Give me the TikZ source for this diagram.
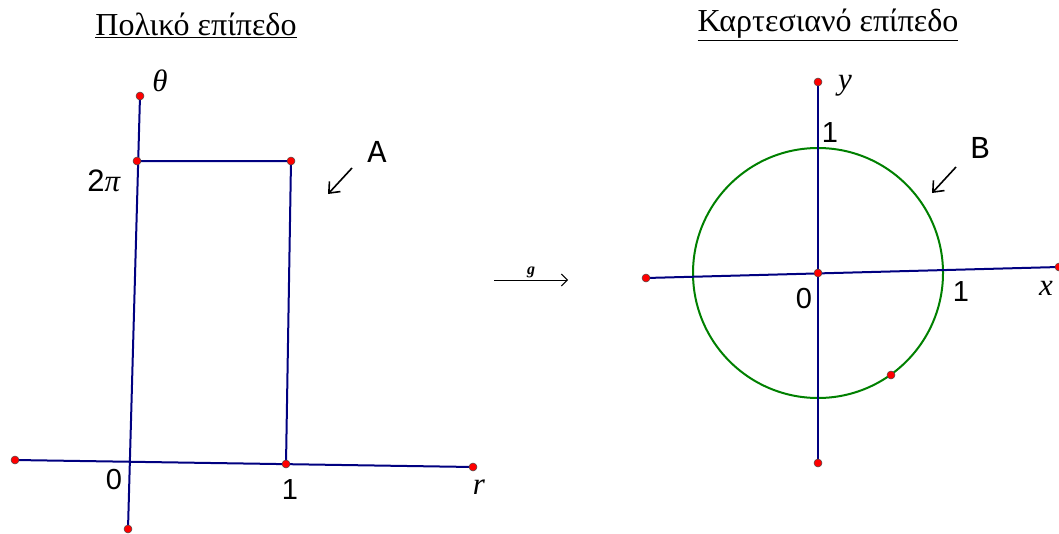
\documentclass[tikz,border=0pt]{standalone}
\usepackage{fontspec}
\setmainfont{Liberation Serif}
\newfontfamily\lblfont{Liberation Sans}
\newfontfamily\monofont{Liberation Mono}
\usetikzlibrary{arrows.meta}
\definecolor{axisblue}{RGB}{0,0,128}
\definecolor{circgreen}{RGB}{0,128,0}
\definecolor{dotred}{RGB}{255,0,0}
\tikzset{
  axis/.style={draw=axisblue, line width=2pt},
  dot/.style={circle, fill=dotred, draw=black!70, line width=0.5pt, inner sep=0pt, minimum size=8pt},
  title/.style={font=\fontsize{32}{34}\selectfont, inner sep=0pt},
  lbl/.style={font=\lblfont\fontsize{29}{31}\selectfont, inner sep=0pt},
  mlbl/.style={font=\itshape\fontsize{31}{33}\selectfont, inner sep=0pt},
  letter/.style={font=\monofont\fontsize{32}{34}\selectfont, inner sep=0pt},
  pointer/.style={draw=black, line width=1.6pt, -{Straight Barb[length=9pt,width=15pt,line width=1.6pt]}},
}
\begin{document}
\begin{tikzpicture}[x=1pt,y=-1pt]
\useasboundingbox (0,0) rectangle (1059,533);
% titles
\node[title] (t1) at (196,25) {\underline{Πολικό επίπεδο}};
\node[title] (t2) at (828,25) {\underline{Καρτεσιανό επίπεδο}};
% left panel coordinates
\coordinate (thtop) at (140,96);
\coordinate (thbot) at (128,529);
\coordinate (rleft) at (15,460);
\coordinate (rright) at (473,467);
\coordinate (tp) at (137,161);
\coordinate (tr) at (291,161);
\coordinate (one) at (286,464);
\draw[axis] (thtop) -- (thbot);
\draw[axis] (rleft) -- (rright);
\draw[axis] (tp) -- (tr) -- (one);
\foreach \p in {thtop,thbot,rleft,rright,tp,tr,one} \node[dot] at (\p) {};
\node[mlbl] (lth) at (160,81) {θ};
\node[font=\fontsize{31}{33}\selectfont, inner sep=0pt] (l2pi) at (104,181) {{\lblfont 2}\textit{π}};
\node[lbl] (l0a) at (114,480) {0};
\node[lbl] (l1a) at (290,490) {1};
\node[mlbl] (lr) at (479,487) {r};
\node[letter] (lA) at (377,152) {A};
\coordinate (aS) at (352,168);
\coordinate (aE) at (328,194);
\draw[pointer] (aS) -- (aE);
% middle arrow
\coordinate (gS) at (494,280);
\coordinate (gE) at (568,280);
\draw[line width=1pt, -{Straight Barb[length=6pt,width=12pt,line width=1pt]}] (gS) -- (gE);
\node[font=\bfseries\itshape\fontsize{16}{16}\selectfont, inner sep=0pt] (lg) at (531,272) {g};
% right panel
\coordinate (O) at (818,273);
\coordinate (ytop) at (818,82);
\coordinate (ybot) at (818,463);
\coordinate (xleft) at (646,278);
\coordinate (xright) at (1059,267);
\coordinate (cp) at (891,375);
\draw[draw=circgreen, line width=2pt] (O) circle[radius=125];
\draw[axis] (ytop) -- (ybot);
\draw[axis] (xleft) -- (xright);
\foreach \p in {ytop,ybot,xleft,xright,O,cp} \node[dot] at (\p) {};
\node[mlbl] (ly) at (845,86) {y};
\node[lbl] (l1y) at (830,133) {1};
\node[lbl] (l0b) at (804,299) {0};
\node[lbl] (l1x) at (961,292) {1};
\node[mlbl] (lx) at (1046,288) {x};
\node[letter] (lB) at (980,148) {B};
\coordinate (bS) at (956,167);
\coordinate (bE) at (932,193);
\draw[pointer] (bS) -- (bE);
\end{tikzpicture}
\end{document}
